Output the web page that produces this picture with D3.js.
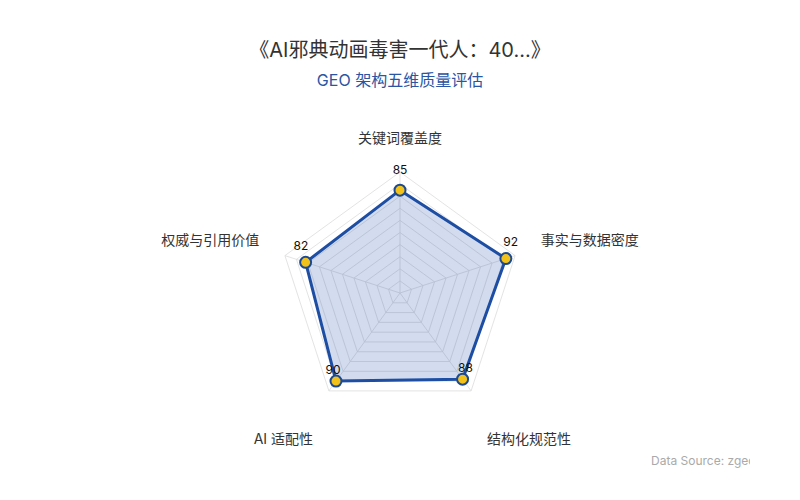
<!DOCTYPE html>
<html>
<head>
<meta charset="utf-8">
<script src="https://cdn.jsdelivr.net/npm/d3@7"></script>
<style>
  html, body { margin: 0; padding: 0; background: #fff; }
  svg { display: block; font-family: Inter, "Noto Sans CJK SC", "Noto Sans", sans-serif; }
</style>
</head>
<body>
<svg id="chart"></svg>
<script>
const indicators = ["关键词覆盖度", "事实与数据密度", "结构化规范性", "AI 适配性", "权威与引用价值"];
const scores = [85, 92, 88, 90, 82];
const maxScore = 100;
const ringLevels = [10, 20, 30, 40, 50, 60, 70, 80, 90, 100];

const svgWidth = 800, svgHeight = 500;
const cx = 400, cy = 293, R = 121;

const svg = d3.select("#chart")
  .attr("width", svgWidth)
  .attr("height", svgHeight);

const r = d3.scaleLinear().domain([0, maxScore]).range([0, R]);
const angle = i => -Math.PI / 2 + i * 2 * Math.PI / indicators.length;
const pt = (i, v) => [cx + Math.cos(angle(i)) * r(v), cy + Math.sin(angle(i)) * r(v)];

// title
svg.append("text")
  .attr("x", svgWidth / 2).attr("y", 52)
  .attr("text-anchor", "middle").attr("dominant-baseline", "middle")
  .style("font-size", "20px").style("fill", "#333")
  .text("《AI邪典动画毒害一代人：40...》");

svg.append("text")
  .attr("x", svgWidth / 2).attr("y", 82)
  .attr("text-anchor", "middle").attr("dominant-baseline", "middle")
  .style("font-size", "16px").style("fill", "#2a55a3")
  .text("GEO 架构五维质量评估");

// grid rings
const g = svg.append("g");
g.selectAll(".ring")
  .data(ringLevels)
  .enter().append("polygon")
  .attr("points", lv => indicators.map((_, i) => pt(i, lv).join(",")).join(" "))
  .attr("fill", "none")
  .attr("stroke", "#dcdcdc")
  .attr("stroke-width", 0.8);

// axes
g.selectAll(".axis")
  .data(indicators)
  .enter().append("line")
  .attr("x1", cx).attr("y1", cy)
  .attr("x2", (d, i) => pt(i, maxScore)[0])
  .attr("y2", (d, i) => pt(i, maxScore)[1])
  .attr("stroke", "#dcdcdc")
  .attr("stroke-width", 0.8);

// data polygon
const line = d3.line().curve(d3.curveLinearClosed);
svg.append("path")
  .attr("d", line(scores.map((v, i) => pt(i, v))))
  .attr("fill", "rgba(30,80,170,0.2)")
  .attr("stroke", "#1d4ea3")
  .attr("stroke-width", 3)
  .attr("stroke-linejoin", "round");

// points
svg.selectAll(".dot")
  .data(scores)
  .enter().append("circle")
  .attr("cx", (v, i) => pt(i, v)[0])
  .attr("cy", (v, i) => pt(i, v)[1])
  .attr("r", 5.5)
  .attr("fill", "#f2c21b")
  .attr("stroke", "#1d4a8f")
  .attr("stroke-width", 2);

// value labels
svg.selectAll(".val")
  .data(scores)
  .enter().append("text")
  .attr("x", (v, i) => pt(i, v)[0] + Math.cos(angle(i)) * 5)
  .attr("y", (v, i) => pt(i, v)[1] + Math.sin(angle(i)) * 5 - 14)
  .attr("text-anchor", "middle").attr("dominant-baseline", "middle")
  .style("font-size", "12px").style("fill", "#111")
  .text(v => v);

// indicator names
svg.selectAll(".name")
  .data(indicators)
  .enter().append("text")
  .attr("x", (d, i) => cx + Math.cos(angle(i)) * (R + 27))
  .attr("y", (d, i) => {
    const s = Math.sin(angle(i));
    return cy + s * (R + 27) + (s > 0.5 ? 27 : -6);
  })
  .attr("text-anchor", (d, i) => {
    const c = Math.cos(angle(i));
    return c > 0.1 ? "start" : c < -0.1 ? "end" : "middle";
  })
  .attr("dominant-baseline", "middle")
  .style("font-size", "14px").style("fill", "#333")
  .text(d => d);

// source
svg.append("clipPath").attr("id", "srcclip")
  .append("rect").attr("x", 0).attr("y", 0).attr("width", 750).attr("height", svgHeight);
svg.append("text")
  .attr("clip-path", "url(#srcclip)")
  .attr("x", 651).attr("y", 462)
  .attr("dominant-baseline", "middle")
  .style("font-size", "12px").style("fill", "#aaa")
  .text("Data Source: zgeo");
</script>
</body>
</html>
